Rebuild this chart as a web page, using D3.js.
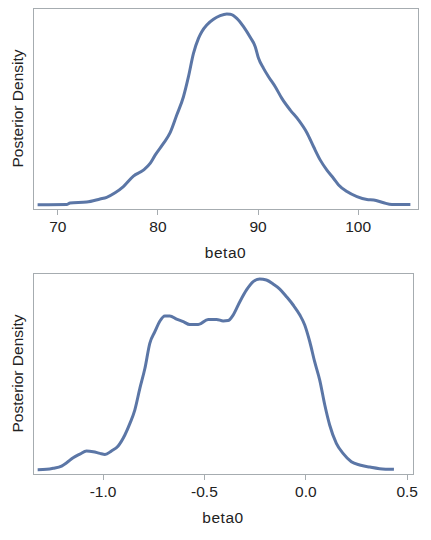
<!DOCTYPE html>
<meta charset="utf-8">
<style>
  body { margin: 0; background: white; }
  .frame { fill: none; stroke: #a6acb0; stroke-width: 1px; shape-rendering: crispEdges; }
  .line { fill: none; stroke: #5b76a6; stroke-width: 3px; stroke-linejoin: round; }
  .axis path { display: none; }
  .axis line { stroke: #a6acb0; shape-rendering: crispEdges; }
  .axis text { font: 15.5px "Liberation Sans", Arial, sans-serif; fill: #222; }
  .label { font: 15.5px "Liberation Sans", Arial, sans-serif; fill: #222; }
</style>
<body>
<script src="https://d3js.org/d3.v7.min.js"></script>
<script>
// panel 1: beta0 (wide)
var x1Vals = [68.03, 70.93, 71.27, 72.93, 74.27, 74.93, 75.77, 76.6, 77.6, 78.6, 79.27, 79.77,
  80.6, 81.27, 81.93, 82.6, 83.1, 83.6, 84.1, 84.43, 84.93, 85.6, 86.27, 86.93, 87.27, 87.93,
  88.6, 89.27, 89.77, 90.1, 90.6, 91.1, 91.77, 92.43, 93.27, 94.1, 94.93, 95.6, 96.27, 96.93,
  97.6, 98.1, 98.93, 99.93, 100.93, 101.6, 102.6, 103.43, 105.27];
var d1Vals = [0, 0.0001, 0.0007, 0.0011, 0.0024, 0.0031, 0.0050, 0.0076, 0.0120, 0.0145, 0.0173, 0.0208,
  0.0257, 0.0302, 0.0376, 0.0453, 0.0537, 0.0635, 0.0698, 0.0726, 0.0754, 0.0778, 0.0793, 0.0800, 0.0799, 0.0782,
  0.0747, 0.0702, 0.0663, 0.0614, 0.0572, 0.0537, 0.0495, 0.0446, 0.0397, 0.0355, 0.0302, 0.0243, 0.0187, 0.0145,
  0.0110, 0.0083, 0.0055, 0.0034, 0.0022, 0.0020, 0.0008, 0.0001, 0.0001];
var x1Ticks = [70, 80, 90, 100];

// panel 2: beta0 (narrow)
var x2Vals = [-1.320, -1.276, -1.243, -1.202, -1.177, -1.145, -1.112, -1.079, -1.046, -1.013, -0.988,
  -0.956, -0.923, -0.890, -0.865, -0.841, -0.816, -0.791, -0.767, -0.742, -0.717, -0.693, -0.668,
  -0.635, -0.602, -0.570, -0.528, -0.479, -0.438, -0.405, -0.381, -0.356, -0.323, -0.290, -0.257,
  -0.225, -0.192, -0.159, -0.126, -0.093, -0.060, -0.027, -0.003, 0.022, 0.046, 0.071, 0.096,
  0.120, 0.153, 0.186, 0.227, 0.268, 0.318, 0.367, 0.437];
var d2Vals = [0, 0.002, 0.008, 0.021, 0.040, 0.069, 0.090, 0.108, 0.104, 0.094, 0.088,
  0.108, 0.137, 0.200, 0.267, 0.344, 0.469, 0.585, 0.729, 0.796, 0.858, 0.887, 0.887,
  0.869, 0.854, 0.837, 0.837, 0.867, 0.867, 0.858, 0.860, 0.892, 0.969, 1.037, 1.085,
  1.100, 1.094, 1.071, 1.042, 0.998, 0.950, 0.892, 0.835, 0.738, 0.623, 0.517, 0.373,
  0.258, 0.152, 0.094, 0.046, 0.027, 0.015, 0.006, 0.002];
var x2Ticks = [-1.0, -0.5, 0.0, 0.5];

var svg = d3.select("body").append("svg")
    .attr("width", 431)
    .attr("height", 540);

function panel(top, left, right, xDomain, xs, ds, ticks, fmt) {
  var height = 201, width = right - left;
  var g = svg.append("g").attr("transform", "translate(" + left + "," + top + ")");
  var x = d3.scaleLinear().domain(xDomain).range([0, width]);
  var y = d3.scaleLinear().domain([0, d3.max(ds)]).range([height - 4.3, 6]);
  var data = xs.map(function(v, i) { return {x: v, d: ds[i]}; });

  g.append("rect").attr("class", "frame")
      .attr("x", 0.5).attr("y", 0.5)
      .attr("width", width).attr("height", height);

  g.append("path")
      .datum(data)
      .attr("class", "line")
      .attr("d", d3.line()
        .x(function(d) { return x(d.x); })
        .y(function(d) { return y(d.d); })
        .curve(d3.curveMonotoneX));

  g.append("g")
      .attr("class", "axis")
      .attr("transform", "translate(0," + (height + 0.5) + ")")
      .call(d3.axisBottom(x).tickValues(ticks).tickSize(5).tickPadding(6)
        .tickFormat(function(d) { return fmt(d).replace("\u2212", "-"); }));

  g.append("text").attr("class", "label")
      .attr("x", width / 2).attr("y", height + 49)
      .attr("text-anchor", "middle")
      .style("letter-spacing", "0.5px")
      .text("beta0");

  g.append("text").attr("class", "label")
      .attr("transform", "translate(" + (-10) + "," + (height / 2) + ") rotate(-90)")
      .attr("text-anchor", "middle")
      .text("Posterior Density");
}

panel(8, 33, 418, [67.57, 106.03], x1Vals, d1Vals, x1Ticks, d3.format("d"));
panel(273, 33, 413, [-1.343, 0.531], x2Vals, d2Vals, x2Ticks, d3.format(".1f"));
</script>
</body>
